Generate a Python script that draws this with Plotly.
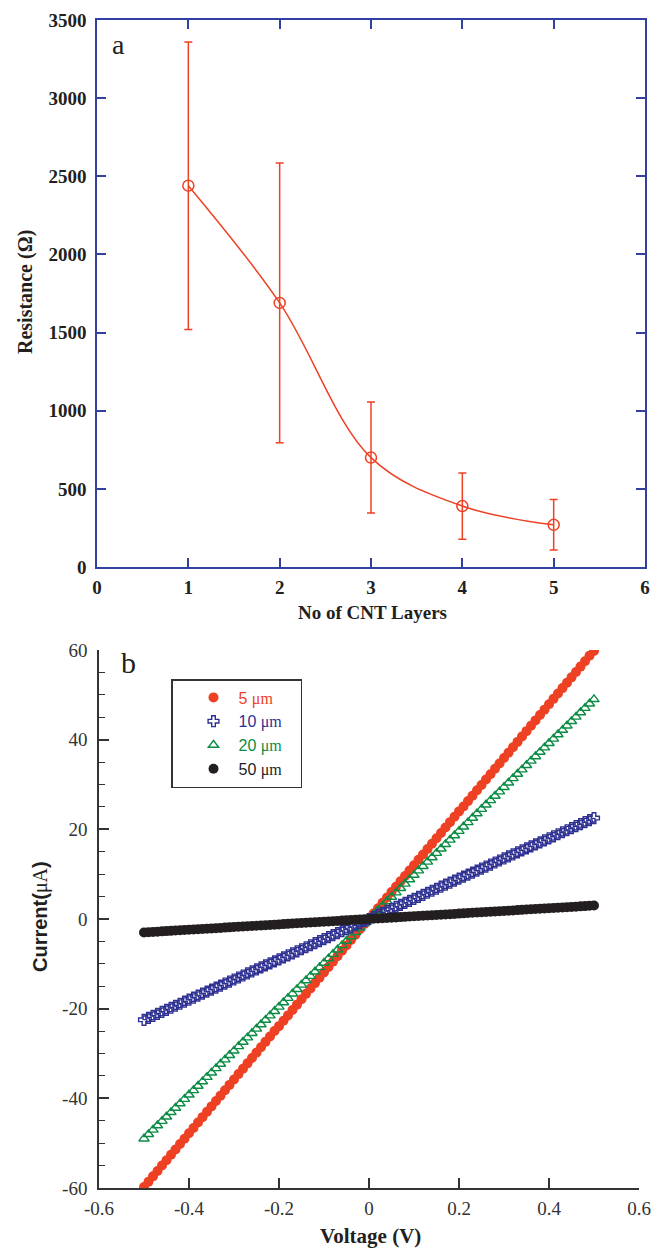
import plotly.graph_objects as go

W, H = 651, 1248

# ---------------- Panel (a) data ----------------
layers = [1, 2, 3, 4, 5]
resistance = [2440, 1690, 700, 390, 270]
resistance_err = [920, 895, 355, 212, 162]
a_xticks = [0, 1, 2, 3, 4, 5, 6]
a_yticks = [0, 500, 1000, 1500, 2000, 2500, 3000, 3500]

# ---------------- Panel (b) data ----------------
b_xticks = [-0.6, -0.4, -0.2, 0, 0.2, 0.4, 0.6]
b_xticklabels = ["-0.6", "-0.4", "-0.2", "0", "0.2", "0.4", "0.6"]
b_yticks = [-60, -40, -20, 0, 20, 40, 60]
b_yticklabels = ["-60", "-40", "-20", "0", "20", "40", "60"]

voltage = [-0.5, -0.49, -0.48, -0.47, -0.46, -0.45, -0.44, -0.43, -0.42, -0.41,
           -0.4, -0.39, -0.38, -0.37, -0.36, -0.35, -0.34, -0.33, -0.32, -0.31,
           -0.3, -0.29, -0.28, -0.27, -0.26, -0.25, -0.24, -0.23, -0.22, -0.21,
           -0.2, -0.19, -0.18, -0.17, -0.16, -0.15, -0.14, -0.13, -0.12, -0.11,
           -0.1, -0.09, -0.08, -0.07, -0.06, -0.05, -0.04, -0.03, -0.02, -0.01,
           0.0,
           0.01, 0.02, 0.03, 0.04, 0.05, 0.06, 0.07, 0.08, 0.09, 0.1,
           0.11, 0.12, 0.13, 0.14, 0.15, 0.16, 0.17, 0.18, 0.19, 0.2,
           0.21, 0.22, 0.23, 0.24, 0.25, 0.26, 0.27, 0.28, 0.29, 0.3,
           0.31, 0.32, 0.33, 0.34, 0.35, 0.36, 0.37, 0.38, 0.39, 0.4,
           0.41, 0.42, 0.43, 0.44, 0.45, 0.46, 0.47, 0.48, 0.49, 0.5]

current_5um = [-59.8, -58.6, -57.4, -56.2, -55.0, -53.8, -52.6, -51.4, -50.2, -49.0,
               -47.8, -46.6, -45.4, -44.2, -43.0, -41.8, -40.6, -39.4, -38.2, -37.0,
               -35.8, -34.6, -33.4, -32.2, -31.0, -29.8, -28.6, -27.4, -26.2, -25.0,
               -23.9, -22.7, -21.5, -20.3, -19.1, -17.9, -16.7, -15.5, -14.3, -13.1,
               -11.9, -10.7, -9.5, -8.3, -7.1, -5.9, -4.7, -3.5, -2.3, -1.1,
               0.0,
               1.2, 2.4, 3.6, 4.8, 6.0, 7.2, 8.4, 9.6, 10.8, 12.0,
               13.2, 14.4, 15.6, 16.8, 18.0, 19.2, 20.4, 21.6, 22.8, 24.0,
               25.1, 26.3, 27.5, 28.7, 29.9, 31.1, 32.3, 33.5, 34.7, 35.9,
               37.1, 38.3, 39.5, 40.7, 41.9, 43.1, 44.3, 45.5, 46.7, 47.9,
               49.1, 50.3, 51.5, 52.7, 53.9, 55.1, 56.3, 57.5, 58.7, 59.8]

current_10um = [-22.5, -22.05, -21.6, -21.15, -20.7, -20.25, -19.8, -19.35, -18.9, -18.45,
                -18.0, -17.55, -17.1, -16.65, -16.2, -15.75, -15.3, -14.85, -14.4, -13.95,
                -13.5, -13.05, -12.6, -12.15, -11.7, -11.25, -10.8, -10.35, -9.9, -9.45,
                -9.0, -8.55, -8.1, -7.65, -7.2, -6.75, -6.3, -5.85, -5.4, -4.95,
                -4.5, -4.05, -3.6, -3.15, -2.7, -2.25, -1.8, -1.35, -0.9, -0.45,
                0.0,
                0.45, 0.9, 1.35, 1.8, 2.25, 2.7, 3.15, 3.6, 4.05, 4.5,
                4.95, 5.4, 5.85, 6.3, 6.75, 7.2, 7.65, 8.1, 8.55, 9.0,
                9.45, 9.9, 10.35, 10.8, 11.25, 11.7, 12.15, 12.6, 13.05, 13.5,
                13.95, 14.4, 14.85, 15.3, 15.75, 16.2, 16.65, 17.1, 17.55, 18.0,
                18.45, 18.9, 19.35, 19.8, 20.25, 20.7, 21.15, 21.6, 22.05, 22.5]

current_20um = [-49.0, -48.02, -47.04, -46.06, -45.08, -44.1, -43.12, -42.14, -41.16, -40.18,
                -39.2, -38.22, -37.24, -36.26, -35.28, -34.3, -33.32, -32.34, -31.36, -30.38,
                -29.4, -28.42, -27.44, -26.46, -25.48, -24.5, -23.52, -22.54, -21.56, -20.58,
                -19.6, -18.62, -17.64, -16.66, -15.68, -14.7, -13.72, -12.74, -11.76, -10.78,
                -9.8, -8.82, -7.84, -6.86, -5.88, -4.9, -3.92, -2.94, -1.96, -0.98,
                0.0,
                0.98, 1.96, 2.94, 3.92, 4.9, 5.88, 6.86, 7.84, 8.82, 9.8,
                10.78, 11.76, 12.74, 13.72, 14.7, 15.68, 16.66, 17.64, 18.62, 19.6,
                20.58, 21.56, 22.54, 23.52, 24.5, 25.48, 26.46, 27.44, 28.42, 29.4,
                30.38, 31.36, 32.34, 33.32, 34.3, 35.28, 36.26, 37.24, 38.22, 39.2,
                40.18, 41.16, 42.14, 43.12, 44.1, 45.08, 46.06, 47.04, 48.02, 49.0]

current_50um = [-3.0, -2.94, -2.88, -2.82, -2.76, -2.7, -2.64, -2.58, -2.52, -2.46,
                -2.4, -2.34, -2.28, -2.22, -2.16, -2.1, -2.04, -1.98, -1.92, -1.86,
                -1.8, -1.74, -1.68, -1.62, -1.56, -1.5, -1.44, -1.38, -1.32, -1.26,
                -1.2, -1.14, -1.08, -1.02, -0.96, -0.9, -0.84, -0.78, -0.72, -0.66,
                -0.6, -0.54, -0.48, -0.42, -0.36, -0.3, -0.24, -0.18, -0.12, -0.06,
                0.0,
                0.06, 0.12, 0.18, 0.24, 0.3, 0.36, 0.42, 0.48, 0.54, 0.6,
                0.66, 0.72, 0.78, 0.84, 0.9, 0.96, 1.02, 1.08, 1.14, 1.2,
                1.26, 1.32, 1.38, 1.44, 1.5, 1.56, 1.62, 1.68, 1.74, 1.8,
                1.86, 1.92, 1.98, 2.04, 2.1, 2.16, 2.22, 2.28, 2.34, 2.4,
                2.46, 2.52, 2.58, 2.64, 2.7, 2.76, 2.82, 2.88, 2.94, 3.0]

RED = "#EE4124"
BLUE = "#2E3192"
GREEN = "#0B8C45"
BLACK = "#231F20"
AXBLUE = "#3340A0"
TXT = "#231F20"
SERIF = "Liberation Serif, Times New Roman, serif"
SANS = "Liberation Sans, Arial, sans-serif"


def px(x):
    return x / W


def py(y):
    return 1 - y / H


fig = go.Figure()

# Panel (a)
fig.add_trace(go.Scatter(
    x=layers, y=resistance, xaxis="x", yaxis="y",
    mode="lines+markers",
    line=dict(color=RED, width=1.5, shape="spline", smoothing=1.0),
    marker=dict(symbol="circle-open", size=11, color=RED, line=dict(width=1.5, color=RED)),
    error_y=dict(type="data", array=resistance_err, color=RED, thickness=1.5, width=4),
    showlegend=False,
))

# Panel (b)
series = [
    ("5 μm", current_5um, RED, dict(symbol="circle", size=10, color=RED), 1),
    ("20 μm", current_20um, GREEN, dict(symbol="triangle-up-open", size=9, color=GREEN, line=dict(width=1.4, color=GREEN)), 3),
    ("10 μm", current_10um, BLUE, dict(symbol="cross-open", size=9, color=BLUE, line=dict(width=1.4, color=BLUE)), 2),
    ("50 μm", current_50um, BLACK, dict(symbol="circle", size=10, color=BLACK), 4),
]
for name, vals, col, mk, rank in series:
    num, unit = name.split(" ")
    fig.add_trace(go.Scatter(
        x=voltage, y=vals, xaxis="x2", yaxis="y2", mode="markers",
        marker=mk,
        name=(f'<span style="color:{col}">{num} '
              f'<span style="font-family:Liberation Serif">{unit}</span></span>'
              '\u00a0\u00a0\u00a0'),
        legendrank=rank,
    ))


def label(text, x, y, size, family=SERIF, weight="normal", angle=0, color=TXT):
    return dict(text=text, x=px(x), y=py(y), xref="paper", yref="paper",
                xanchor="center", yanchor="middle", textangle=angle,
                showarrow=False,
                font=dict(family=family, size=size, color=color, weight=weight))


fig.update_layout(
    width=W, height=H,
    margin=dict(l=0, r=0, t=0, b=0, autoexpand=False),
    paper_bgcolor="white", plot_bgcolor="white",
    template="none",
    showlegend=True,
    xaxis=dict(
        domain=[px(97), px(645)], anchor="y", range=[0, 6],
        tickvals=a_xticks,
        showline=True, linecolor=AXBLUE, linewidth=1.5, mirror="ticks",
        ticks="inside", ticklen=9, tickwidth=1.5, tickcolor=AXBLUE,
        showgrid=False, zeroline=False, automargin=False,
        tickfont=dict(family=SERIF, size=19, color=TXT, weight="bold"),
        ticklabelstandoff=2, ticklabeloverflow="allow",
    ),
    yaxis=dict(
        domain=[py(567), py(20)], anchor="x", range=[0, 3500],
        tickvals=a_yticks,
        showline=True, linecolor=AXBLUE, linewidth=1.5, mirror="ticks",
        ticks="inside", ticklen=9, tickwidth=1.5, tickcolor=AXBLUE,
        showgrid=False, zeroline=False, automargin=False,
        tickfont=dict(family=SERIF, size=19, color=TXT, weight="bold"),
        ticklabelstandoff=5, ticklabeloverflow="allow",
    ),
    xaxis2=dict(
        domain=[px(99), px(639)], anchor="y2", range=[-0.6, 0.6],
        tickvals=b_xticks, ticktext=b_xticklabels,
        showline=True, linecolor="#333333", linewidth=1.5, mirror=False,
        ticks="inside", ticklen=10, tickwidth=1.5, tickcolor="#333333",
        showgrid=False, zeroline=False, automargin=False,
        tickfont=dict(family=SERIF, size=19, color="#333333"),
        ticklabelstandoff=2, ticklabeloverflow="allow",
    ),
    yaxis2=dict(
        domain=[py(1188), py(650)], anchor="x2", range=[-60, 60],
        tickvals=b_yticks, ticktext=b_yticklabels,
        showline=True, linecolor="#333333", linewidth=1.5, mirror=False,
        ticks="inside", ticklen=10, tickwidth=1.5, tickcolor="#333333",
        minor=dict(dtick=5, tick0=0, ticks="inside", ticklen=6, tickwidth=1.2,
                   tickcolor="#333333"),
        showgrid=False, zeroline=False, automargin=False,
        tickfont=dict(family=SERIF, size=19, color="#333333"),
        ticklabelstandoff=6, ticklabeloverflow="allow",
    ),
    legend=dict(
        x=px(171), y=py(679), xanchor="left", yanchor="top",
        bgcolor="white", bordercolor="#333333", borderwidth=1.5,
        font=dict(family=SANS, size=16, color=BLACK),
        itemsizing="trace", indentation=16, itemwidth=40,
        tracegroupgap=0,
    ),
    annotations=[
        label("a", 118, 45, 28, color=BLACK),
        label("No of CNT Layers", 372, 612, 19, weight="bold"),
        label("Resistance (Ω)", 25, 292, 20, weight="bold", angle=-90),
        label("b", 128, 662, 30, color=BLACK),
        label("Voltage (V)", 370, 1236, 21, weight="bold"),
        label('Current(<span style="font-family:Liberation Serif;font-weight:normal">μA</span>)',
              40, 917, 20, family=SANS, weight="bold", angle=-90),
    ],
)

fig.write_html(
    "out.html",
    config={"displayModeBar": False},
    post_script="document.body.style.margin='0';document.body.style.overflow='hidden';",
)
